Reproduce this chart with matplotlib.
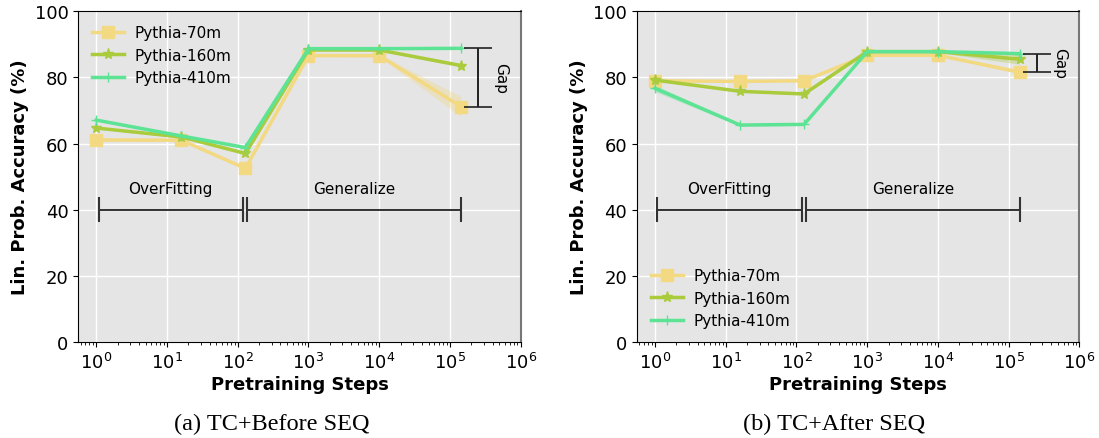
import numpy as np
import matplotlib.pyplot as plt

# Pretraining checkpoints
steps = [1, 16, 128, 1000, 10000, 143000]
models = ["Pythia-70m", "Pythia-160m", "Pythia-410m"]
colors = ["#F2D982", "#AACB3C", "#5DE394"]
markers = ["s", "*", "+"]

# (a) TC+Before SEQ
before_mean = [
    [61.1, 61.0, 52.5, 86.6, 86.6, 71.2],
    [64.7, 62.0, 57.0, 88.3, 88.3, 83.6],
    [67.1, 62.3, 58.8, 88.7, 88.7, 88.8],
]
before_std = [
    [0.4, 0.3, 0.5, 0.3, 0.4, 3.0],
    [0.3, 0.3, 0.4, 0.2, 0.3, 0.4],
    [0.3, 0.3, 0.3, 0.2, 0.2, 0.2],
]

# (b) TC+After SEQ
after_mean = [
    [79.0, 78.8, 79.0, 86.7, 86.7, 81.6],
    [79.2, 75.8, 75.0, 87.8, 87.8, 85.5],
    [76.7, 65.6, 65.8, 87.8, 87.8, 87.2],
]
after_std = [
    [0.4, 0.3, 0.3, 0.3, 0.3, 0.5],
    [0.3, 0.3, 0.3, 0.2, 0.3, 1.5],
    [1.0, 0.3, 0.3, 0.2, 0.2, 0.4],
]

captions = ["(a) TC+Before SEQ", "(b) TC+After SEQ"]
legend_locs = ["upper left", "lower left"]


def draw_panel(ax, means, stds, legend_loc):
    ax.set_facecolor("#E5E5E5")
    ax.grid(True, color="white", linewidth=1.0)
    ax.set_axisbelow(True)
    for i in range(len(models)):
        m = np.array(means[i])
        s = np.array(stds[i])
        ax.fill_between(steps, m - s, m + s, color=colors[i], alpha=0.35, linewidth=0)
        ax.plot(steps, m, color=colors[i], marker=markers[i], linewidth=2.5,
                markersize=8 if markers[i] != "+" else 7, label=models[i])
    ax.set_xscale("log")
    ax.set_xlim(0.556, 1e6)
    ax.set_ylim(0, 100)
    ax.set_xlabel("Pretraining Steps", fontsize=13, fontweight="bold", labelpad=2)
    ax.set_ylabel("Lin. Prob. Accuracy (%)", fontsize=13, fontweight="bold")
    ax.tick_params(axis="both", labelsize=13)
    ax.spines["right"].set_color("#777777")
    ax.spines["right"].set_linewidth(1.5)

    # phase brackets
    for x0, x1, txt in [(1.08, 118, "OverFitting"), (136, 145000, "Generalize")]:
        ax.plot([x0, x1], [40, 40], color="#222222", linewidth=1.3)
        ax.vlines([x0, x1], 36.3, 43.7, color="#333333", linewidth=1.5)
        ax.text(np.sqrt(x0 * x1), 44, txt, ha="center", va="bottom", fontsize=11)

    # gap marker between 410m and 70m at the last checkpoint
    top = means[2][-1]
    bot = means[0][-1]
    ax.vlines(2.5e5, bot, top, color="black", linewidth=1.2)
    ax.hlines([top, bot], 1.6e5, 3.9e5, color="#222222", linewidth=1.2)
    ax.text(5.2e5, (top + bot) / 2, "Gap", rotation=270, ha="center", va="center", fontsize=11)

    ax.legend(loc=legend_loc, frameon=False, fontsize=11, handlelength=2.1,
              handletextpad=0.7)


fig = plt.figure(figsize=(10.99, 4.39), dpi=100)
ax1 = fig.add_axes([0.0712, 0.2187, 0.4026, 0.7533])
ax2 = fig.add_axes([0.5796, 0.2187, 0.4026, 0.7533])

draw_panel(ax1, before_mean, before_std, legend_locs[0])
draw_panel(ax2, after_mean, after_std, legend_locs[1])

fig.text(0.2475, 0.02, captions[0], ha="center", fontsize=17.5, family="Liberation Serif")
fig.text(0.759, 0.02, captions[1], ha="center", fontsize=17.5, family="Liberation Serif")

fig.savefig("out.png", dpi=100)
